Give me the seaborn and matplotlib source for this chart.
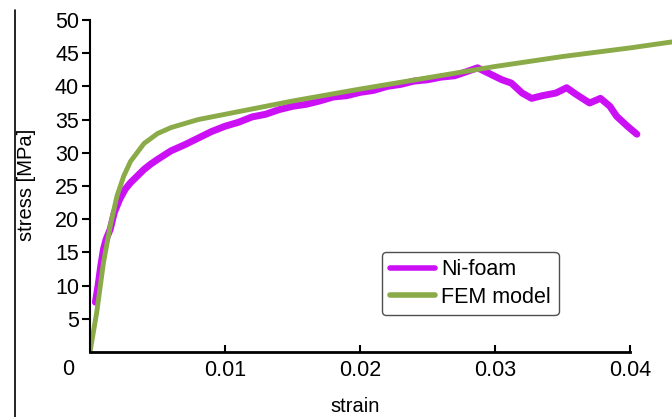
import matplotlib
matplotlib.use("Agg")
import matplotlib.pyplot as plt
import seaborn as sns
from matplotlib.lines import Line2D

# measured Ni-foam curve (strain, stress in MPa)
foam_strain = [0.0004, 0.0006, 0.0008, 0.0010, 0.0012, 0.0015, 0.0018, 0.0022, 0.0026,
               0.0030, 0.0035, 0.0040, 0.0045, 0.0050, 0.0060, 0.0070, 0.0080, 0.0090,
               0.0100, 0.0110, 0.0120, 0.0130, 0.0140, 0.0150, 0.0160, 0.0170, 0.0180,
               0.0190, 0.0200, 0.0210, 0.0220, 0.0230, 0.0240, 0.0250, 0.0260, 0.0270,
               0.0280, 0.0287, 0.0295, 0.0305, 0.0312, 0.0320, 0.0327, 0.0335, 0.0345,
               0.0353, 0.0360, 0.0370, 0.0378, 0.0385, 0.0390, 0.0398, 0.0405]
foam_stress = [7.5, 10.0, 13.0, 15.5, 17.0, 18.5, 21.0, 23.0, 24.5,
               25.5, 26.5, 27.5, 28.3, 29.0, 30.3, 31.2, 32.2, 33.2,
               34.0, 34.6, 35.4, 35.8, 36.5, 37.0, 37.3, 37.8, 38.4,
               38.6, 39.1, 39.4, 40.0, 40.3, 40.8, 41.0, 41.4, 41.6,
               42.3, 42.8, 42.0, 41.0, 40.5, 39.0, 38.2, 38.6, 39.0,
               39.8, 38.8, 37.5, 38.2, 37.0, 35.5, 34.0, 32.8]

# FEM model curve
fem_strain = [0.0, 0.0005, 0.0010, 0.0015, 0.0020, 0.0025, 0.0030, 0.0040, 0.0050,
              0.0060, 0.0080, 0.0100, 0.0150, 0.0200, 0.0250, 0.0300, 0.0350,
              0.0400, 0.0431]
fem_stress = [0.0, 6.0, 13.5, 19.0, 23.5, 26.5, 28.7, 31.4, 32.9,
              33.8, 35.0, 35.8, 37.8, 39.6, 41.3, 43.0, 44.5,
              45.8, 46.7]

x_ticks = [0.01, 0.02, 0.03, 0.04]
x_labels = ["0.01", "0.02", "0.03", "0.04"]
y_ticks = [5, 10, 15, 20, 25, 30, 35, 40, 45, 50]

sns.set_style("white")
plt.rcParams["font.family"] = ["Liberation Sans", "DejaVu Sans"]
plt.rcParams["text.color"] = "black"
plt.rcParams["axes.labelcolor"] = "black"
plt.rcParams["xtick.color"] = "black"
plt.rcParams["ytick.color"] = "black"

fig = plt.figure(figsize=(6.72, 4.17), dpi=100)
ax = fig.add_axes([90 / 672, 1 - 352 / 417, 582 / 672, 332 / 417])

magenta = "#CC10F5"
green = "#8BAA48"
fs = 15.5

sns.lineplot(x=foam_strain, y=foam_stress, color=magenta, linewidth=5,
             estimator=None, sort=False, ax=ax, label="Ni-foam")
sns.lineplot(x=fem_strain, y=fem_stress, color=green, linewidth=3.5,
             estimator=None, sort=False, ax=ax, label="FEM model")

ax.set_xlim(0, 0.0431)
ax.set_ylim(0, 50)
ax.set_xticks(x_ticks)
ax.set_xticklabels(x_labels)
ax.set_yticks(y_ticks)
ax.tick_params(axis="x", direction="in", length=5, width=1.5, pad=6, labelsize=fs,
               bottom=True)
ax.tick_params(axis="y", direction="out", length=6, width=1.5, pad=2, labelsize=fs,
               left=True)

for s in ["top", "right"]:
    ax.spines[s].set_visible(False)
ax.spines["left"].set_linewidth(1.5)
ax.spines["bottom"].set_linewidth(2)
ax.spines["left"].set_color("black")
ax.spines["bottom"].set_color("black")
ax.spines["bottom"].set_bounds(0, 0.04)

ax.text(-0.0016, -2.6, "0", fontsize=fs, ha="center", va="center", clip_on=False)

ax.set_xlabel("strain", fontsize=14.5)
ax.set_ylabel("stress [MPa]", fontsize=14.5)
ax.xaxis.set_label_coords(0.455, -0.135)
ax.yaxis.set_label_coords(-0.093, 0.503)

leg = ax.legend(loc="lower left", bbox_to_anchor=(0.502, 0.11), fontsize=fs,
                frameon=True, fancybox=True, handlelength=2.1, handletextpad=0.3,
                borderpad=0.35, labelspacing=0.3, borderaxespad=0)
leg.get_frame().set_edgecolor("#222222")
leg.get_frame().set_linewidth(1.0)
for line in leg.get_lines():
    line.set_linewidth(4)

fig.add_artist(Line2D([15 / 672, 15 / 672], [0, 1 - 10 / 417], color="black",
                      linewidth=1.2, transform=fig.transFigure))

fig.savefig("out.png", dpi=100)
